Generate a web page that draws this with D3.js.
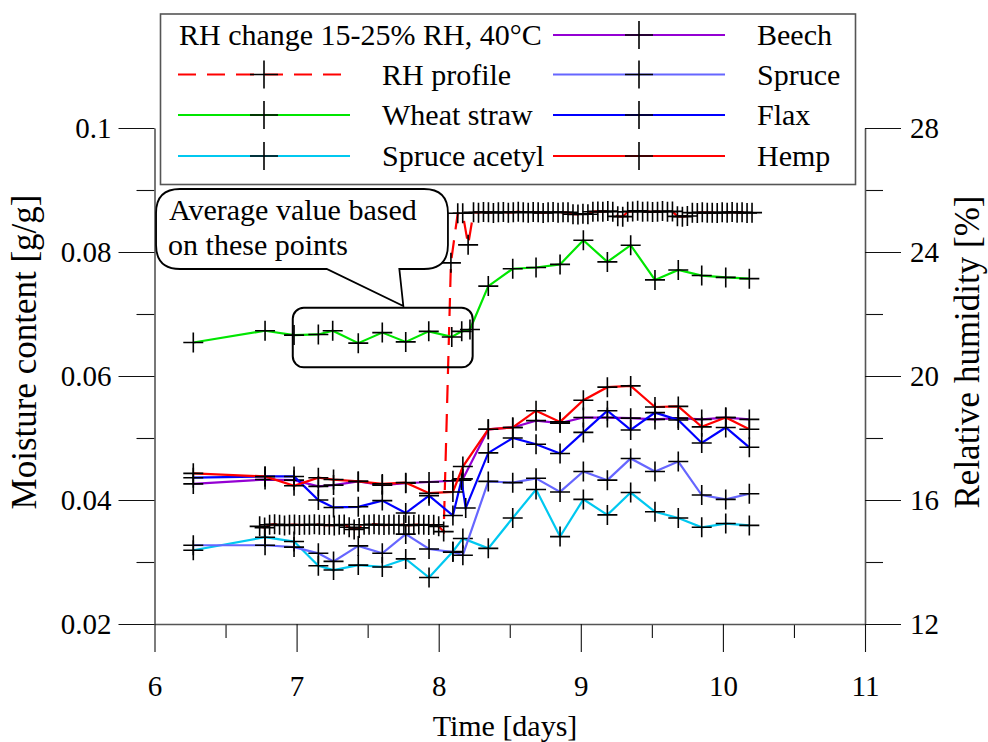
<!DOCTYPE html>
<html><head><meta charset="utf-8">
<script src="https://cdn.jsdelivr.net/npm/d3@7"></script>
<style>
body{margin:0;background:#fff;}
</style></head><body>
<svg id="c" width="988" height="742"></svg>
<script>
// ---------------- DATA ----------------
const xTicks = [6, 7, 8, 9, 10, 11];
const xMinorTicks = [6.5, 7.5, 8.5, 9.5, 10.5];
const yLeftTicks = [0.02, 0.04, 0.06, 0.08, 0.1];
const yLeftMinor = [0.03, 0.05, 0.07, 0.09];
const yRightTicks = [12, 16, 20, 24, 28];
const yRightMinor = [14, 18, 22, 26];

const tMain = [6.273, 6.778, 6.982, 7.153, 7.260, 7.434, 7.603, 7.768, 7.932, 8.100, 8.170, 8.349, 8.521, 8.685, 8.854, 9.018, 9.187, 9.351, 9.522, 9.686, 9.851, 10.020, 10.186];
const tWheat = [6.273, 6.778, 6.982, 7.153, 7.254, 7.434, 7.603, 7.768, 7.930, 8.092, 8.162, 8.220, 8.349, 8.521, 8.685, 8.854, 9.018, 9.187, 9.351, 9.522, 9.686, 9.851, 10.020, 10.186];
const tFlax = [6.273, 6.778, 6.982, 7.153, 7.260, 7.434, 7.603, 7.768, 7.932, 8.100, 8.160, 8.190, 8.349, 8.521, 8.685, 8.854, 9.018, 9.187, 9.351, 9.522, 9.686, 9.851, 10.020, 10.186];

const wheatStraw = [0.0654, 0.0673, 0.0666, 0.0667, 0.0673, 0.0653, 0.0670, 0.0655, 0.0672, 0.0663, 0.0672, 0.0675, 0.0745, 0.0773, 0.0775, 0.0780, 0.0819, 0.0784, 0.0811, 0.0755, 0.0771, 0.0762, 0.0759, 0.0757];
const spruceAcetyl = [0.0319, 0.0340, 0.0333, 0.0294, 0.0287, 0.0295, 0.0292, 0.0305, 0.0275, 0.0317, 0.0338, 0.0322, 0.0371, 0.0417, 0.0341, 0.0401, 0.0376, 0.0412, 0.0381, 0.0371, 0.0356, 0.0362, 0.0359];
const beech = [0.0426, 0.0433, 0.0432, 0.0422, 0.0424, 0.0430, 0.0424, 0.0427, 0.0429, 0.0431, 0.0434, 0.0514, 0.0517, 0.0528, 0.0524, 0.0533, 0.0533, 0.0532, 0.0530, 0.0532, 0.0530, 0.0533, 0.0530];
const spruce = [0.0327, 0.0327, 0.0324, 0.0314, 0.0301, 0.0326, 0.0314, 0.0345, 0.0321, 0.0316, 0.0311, 0.0430, 0.0428, 0.0435, 0.0413, 0.0446, 0.0432, 0.0467, 0.0446, 0.0462, 0.0408, 0.0401, 0.0410];
const flax = [0.0436, 0.0438, 0.0438, 0.0400, 0.0388, 0.0389, 0.0399, 0.0379, 0.0407, 0.0375, 0.0432, 0.0387, 0.0476, 0.0500, 0.0490, 0.0475, 0.0509, 0.0544, 0.0513, 0.0541, 0.0529, 0.0492, 0.0517, 0.0485];
const hemp = [0.0443, 0.0438, 0.0423, 0.0436, 0.0433, 0.0430, 0.0426, 0.0428, 0.0411, 0.0413, 0.0454, 0.0514, 0.0517, 0.0544, 0.0526, 0.0561, 0.0582, 0.0584, 0.0550, 0.0551, 0.0518, 0.0533, 0.0514];

const tRH = [6.740, 6.775, 6.810, 6.845, 6.880, 6.915, 6.950, 6.985, 7.020, 7.055, 7.090, 7.125, 7.160, 7.195, 7.230, 7.265, 7.300, 7.335, 7.370, 7.405, 7.440, 7.475, 7.510, 7.545, 7.580, 7.615, 7.650, 7.685, 7.720, 7.755, 7.790, 7.825, 7.860, 7.895, 7.930, 7.965, 8.000, 8.035,
  8.086, 8.134, 8.169, 8.207,
  8.245, 8.280, 8.315, 8.350, 8.385, 8.420, 8.455, 8.490, 8.525, 8.560, 8.595, 8.630, 8.665, 8.700, 8.735, 8.770, 8.805, 8.840, 8.875, 8.910, 8.945, 8.980, 9.015, 9.050, 9.085, 9.120, 9.155, 9.190, 9.225, 9.260, 9.295, 9.330, 9.365, 9.400, 9.435, 9.470, 9.505, 9.540, 9.575, 9.610, 9.645, 9.680, 9.715, 9.750, 9.785, 9.820, 9.855, 9.890, 9.925, 9.960, 9.995, 10.030, 10.065, 10.100, 10.135, 10.170, 10.205];
const rhProfile = [15.15, 15.11, 15.20, 15.22, 15.20, 15.18, 15.20, 15.21, 15.19, 15.20, 15.20, 15.22, 15.20, 15.19, 15.20, 15.18, 15.20, 15.21, 15.12, 15.05, 15.10, 15.20, 15.20, 15.22, 15.20, 15.19, 15.20, 15.21, 15.20, 15.20, 15.18, 15.20, 15.21, 15.20, 15.19, 15.20, 15.15, 14.98,
  23.65, 25.25, 25.25, 24.23,
  25.28, 25.27, 25.29, 25.28, 25.26, 25.28, 25.29, 25.27, 25.28, 25.30, 25.28, 25.27, 25.29, 25.28, 25.26, 25.28, 25.29, 25.27, 25.28, 25.28, 25.22, 25.21, 25.23, 25.22, 25.30, 25.31, 25.30, 25.32, 25.30, 25.15, 25.14, 25.30, 25.31, 25.33, 25.30, 25.31, 25.29, 25.30, 25.32, 25.30, 25.31, 25.15, 25.14, 25.16, 25.27, 25.26, 25.28, 25.27, 25.27, 25.26, 25.28, 25.27, 25.29, 25.27, 25.28, 25.26, 25.27];

const seriesNames = ["RH profile", "Wheat straw", "Spruce acetyl", "Beech", "Spruce", "Flax", "Hemp"];
const seriesColors = ["#ff0000", "#00e600", "#00c8f0", "#9400d3", "#6666ff", "#0000ff", "#ff0000"];
const legendTitle = "RH change 15-25% RH, 40°C";
const calloutLines = ["Average value based", "on these points"];

// ---------------- CHART ----------------
const SERIF = "'Liberation Serif', 'Times New Roman', serif";
const svg = d3.select("#c");
const x = d3.scaleLinear().domain([6, 11]).range([154.5, 865]);
const yL = d3.scaleLinear().domain([0.02, 0.1]).range([624, 128]);
const yR = d3.scaleLinear().domain([12, 28]).range([624, 128]);
const FONT = 29;

function txt(sel, size) {
  return sel.style("font-family", SERIF).style("font-size", size + "px").attr("fill", "#000");
}
function styleAxis(g, withDomain) {
  g.attr("font-family", null).attr("font-size", null);
  txt(g.selectAll("text"), FONT);
  g.selectAll(".tick line").attr("stroke", "#111").attr("stroke-width", 1.1);
  if (withDomain) g.select(".domain").attr("stroke", "#555").attr("stroke-width", 1.6);
  else g.select(".domain").remove();
}

// left axis
svg.append("g").attr("transform", "translate(154.5,0)")
  .call(d3.axisLeft(yL).tickValues(yLeftMinor).tickSize(18).tickSizeOuter(0).tickFormat(""))
  .call(g => styleAxis(g, false));
svg.append("g").attr("transform", "translate(154.5,0)")
  .call(d3.axisLeft(yL).tickValues(yLeftTicks).tickSize(36).tickPadding(7).tickSizeOuter(0).tickFormat(d => String(d)))
  .call(g => styleAxis(g, true));
// right axis
svg.append("g").attr("transform", "translate(865,0)")
  .call(d3.axisRight(yR).tickValues(yRightMinor).tickSize(18).tickSizeOuter(0).tickFormat(""))
  .call(g => styleAxis(g, false));
svg.append("g").attr("transform", "translate(865,0)")
  .call(d3.axisRight(yR).tickValues(yRightTicks).tickSize(36).tickPadding(9).tickSizeOuter(0).tickFormat(d => String(d)))
  .call(g => styleAxis(g, true));
// bottom axis
svg.append("g").attr("transform", "translate(0,624)")
  .call(d3.axisBottom(x).tickValues(xMinorTicks).tickSize(14).tickSizeOuter(0).tickFormat(""))
  .call(g => styleAxis(g, false));
svg.append("g").attr("transform", "translate(0,624)")
  .call(d3.axisBottom(x).tickValues(xTicks).tickSize(28).tickPadding(23).tickSizeOuter(0).tickFormat(d => String(d)))
  .call(g => styleAxis(g, true));

// axis titles
txt(svg.append("text"), 30).attr("x", 505).attr("y", 736).attr("text-anchor", "middle").text("Time [days]");
txt(svg.append("text"), 35).attr("transform", "translate(36,352) rotate(-90)").attr("text-anchor", "middle").text("Moisture content [g/g]");
txt(svg.append("text"), 35).attr("transform", "translate(979,352) rotate(-90)").attr("text-anchor", "middle").text("Relative humidity [%]");

// series
const plotG = svg.append("g");
const crossPath = s => `M${-s},0H${s}M0,${-s}V${s}`;
function drawSeries(ts, vs, yScale, color, dashed) {
  const pts = ts.map((t, i) => [t, vs[i]]);
  const line = d3.line().x(d => x(d[0])).y(d => yScale(d[1]));
  plotG.append("path").datum(pts).attr("d", line).attr("fill", "none")
    .attr("stroke", color).attr("stroke-width", 2.2)
    .attr("stroke-dasharray", dashed ? "18,11" : null);
  plotG.append("g").selectAll("path").data(pts).join("path")
    .attr("transform", d => `translate(${x(d[0])},${yScale(d[1])})`)
    .attr("d", crossPath(10)).attr("stroke", "#000").attr("stroke-width", 1.6).attr("fill", "none");
}
drawSeries(tRH, rhProfile, yR, seriesColors[0], true);
drawSeries(tWheat, wheatStraw, yL, seriesColors[1], false);
drawSeries(tMain, spruceAcetyl, yL, seriesColors[2], false);
drawSeries(tMain, beech, yL, seriesColors[3], false);
drawSeries(tMain, spruce, yL, seriesColors[4], false);
drawSeries(tFlax, flax, yL, seriesColors[5], false);
drawSeries(tMain, hemp, yL, seriesColors[6], false);

// annotation: box around averaged points
const boxT = [6.973, 8.239], boxV = [0.0614, 0.0710];
svg.append("rect").attr("x", x(boxT[0])).attr("y", yL(boxV[1]))
  .attr("width", x(boxT[1]) - x(boxT[0])).attr("height", yL(boxV[0]) - yL(boxV[1]))
  .attr("rx", 11).attr("ry", 11).attr("fill", "none").attr("stroke", "#000").attr("stroke-width", 2);

// callout bubble
const cT = [6.011, 8.065], cV = [0.07726, 0.09016];
const cx0 = x(cT[0]), cx1 = x(cT[1]), cy0 = yL(cV[1]), cy1 = yL(cV[0]);
const r = 24;
const tailA = x(7.212), tailB = x(7.723), tipX = x(7.751), tipY = yL(0.07129);
const bubble = `M${cx0 + r},${cy0} H${cx1 - r} Q${cx1},${cy0} ${cx1},${cy0 + r} V${cy1 - r} Q${cx1},${cy1} ${cx1 - r},${cy1}
  H${tailB} L${tipX},${tipY} L${tailA},${cy1} H${cx0 + r} Q${cx0},${cy1} ${cx0},${cy1 - r} V${cy0 + r} Q${cx0},${cy0} ${cx0 + r},${cy0} Z`;
svg.append("path").attr("d", bubble).attr("fill", "#fff").attr("stroke", "#000").attr("stroke-width", 1.8);
txt(svg.append("text"), 30).attr("x", cx0 + 13).attr("y", cy0 + 31).text(calloutLines[0]);
txt(svg.append("text"), 30).attr("x", cx0 + 12).attr("y", cy0 + 66).text(calloutLines[1]);

// legend
const lg = svg.append("g");
lg.append("rect").attr("x", 160.5).attr("y", 14).attr("width", 695).attr("height", 170.5)
  .attr("fill", "#fff").attr("stroke", "#555").attr("stroke-width", 1.6);
const rowY = [35, 74.5, 115, 156];
txt(lg.append("text"), 30).attr("x", 179).attr("y", rowY[0] + 10).text(legendTitle);
const legendItems = seriesNames.map((n, i) => {
  const col = i < 3 ? 0 : 1;
  const row = i < 3 ? i + 1 : i - 3;
  return {name: n, color: seriesColors[i], dashed: i === 0, col, row};
});
legendItems.forEach(it => {
  const x0 = it.col === 0 ? 178 : 553, x1 = it.col === 0 ? 350 : 725, tx = it.col === 0 ? 382 : 757;
  const yy = rowY[it.row];
  lg.append("line").attr("x1", x0).attr("x2", x1).attr("y1", yy).attr("y2", yy)
    .attr("stroke", it.color).attr("stroke-width", 2.2).attr("stroke-dasharray", it.dashed ? "18,11" : null);
  lg.append("path").attr("transform", `translate(${(x0 + x1) / 2},${yy})`)
    .attr("d", "M-14,0H14M0,-14V14").attr("stroke", "#000").attr("stroke-width", 1.6);
  txt(lg.append("text"), 30).attr("x", tx).attr("y", yy + 10).text(it.name);
});
</script>
</body></html>
